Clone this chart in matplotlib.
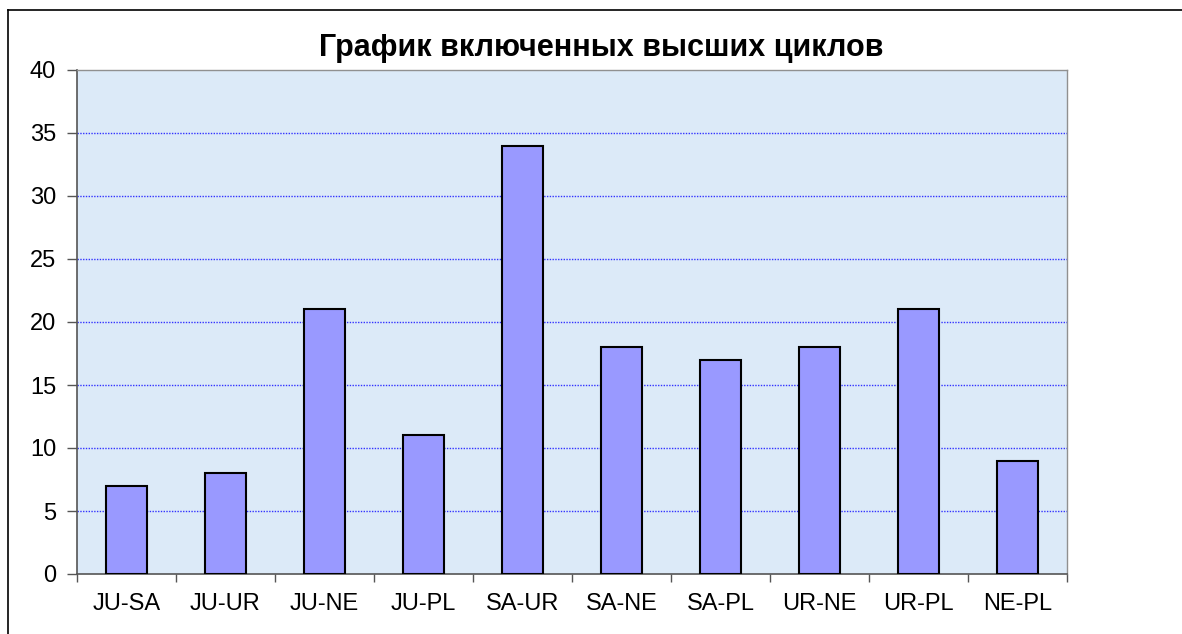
import matplotlib
matplotlib.use("Agg")
import matplotlib.pyplot as plt
from matplotlib.lines import Line2D

plt.rcParams['font.family'] = ['Liberation Sans', 'DejaVu Sans']

categories = ["JU-SA", "JU-UR", "JU-NE", "JU-PL", "SA-UR", "SA-NE", "SA-PL", "UR-NE", "UR-PL", "NE-PL"]
values = [7, 8, 21, 11, 34, 18, 17, 18, 21, 9]
yticks = [0, 5, 10, 15, 20, 25, 30, 35, 40]
title = "График включенных высших циклов"

fig = plt.figure(figsize=(11.82, 6.34), dpi=100)
ax = fig.add_axes([77/1182, 1-574/634, (1067-77)/1182, (574-70)/634])
ax.set_facecolor('#DCEAF8')

x = list(range(len(categories)))
ax.bar(x, values, width=0.42, color='#9999FF', edgecolor='black', linewidth=1.5, zorder=3)

ax.set_xlim(-0.5, len(categories) - 0.5)
ax.set_ylim(0, 40)
ax.set_yticks(yticks)
ax.set_yticklabels([str(v) for v in yticks], fontsize=17)
for v in yticks[1:-1]:
    ax.axhline(v, color='#3333FF', linestyle=(0, (1, 1)), linewidth=1.0, zorder=1)

ax.set_xticks(x)
ax.set_xticklabels(categories, fontsize=17)
ax.tick_params(axis='x', length=0, pad=14)
ax.set_xticks([i - 0.5 for i in range(len(categories) + 1)], minor=True)
ax.tick_params(axis='x', which='minor', length=6, direction='out', color='#555555', width=1)
ax.tick_params(axis='y', length=7, direction='out', color='#555555', width=1, pad=8)

for s in ['left', 'bottom']:
    ax.spines[s].set_color('#555555')
    ax.spines[s].set_linewidth(1.2)
for s in ['top', 'right']:
    ax.spines[s].set_color('#909090')
    ax.spines[s].set_linewidth(1.0)

fig.text(601/1182, 1-48/634, title, ha='center', va='center', fontsize=22, fontweight='bold')

# outer chart border (top and left visible)
fig.add_artist(Line2D([8/1182, 8/1182], [0, 1-10/634], transform=fig.transFigure, color='black', linewidth=1.2))
fig.add_artist(Line2D([8/1182, 1], [1-10/634, 1-10/634], transform=fig.transFigure, color='black', linewidth=1.2))

fig.savefig('out.png', dpi=100)
